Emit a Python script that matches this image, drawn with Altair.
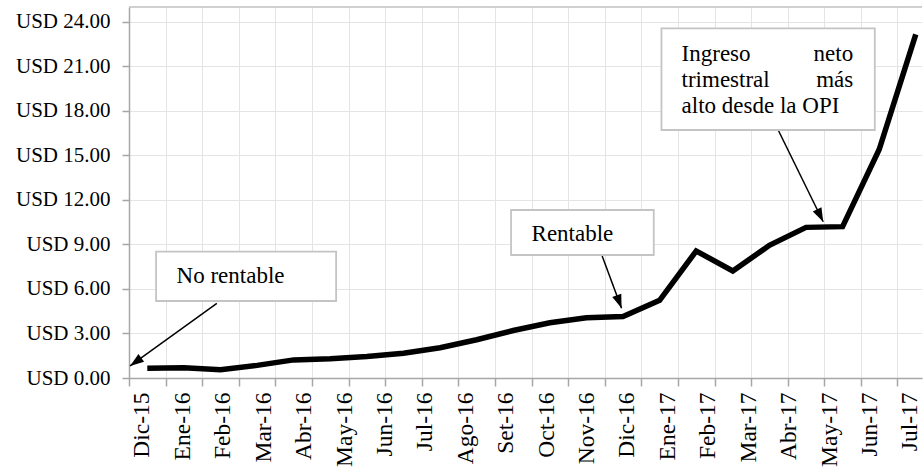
import json
import math
import altair as alt
import pandas as pd

# ---------------- data ----------------
month_labels = ["Dic-15", "Ene-16", "Feb-16", "Mar-16", "Abr-16", "May-16", "Jun-16",
                "Jul-16", "Ago-16", "Set-16", "Oct-16", "Nov-16", "Dic-16", "Ene-17",
                "Feb-17", "Mar-17", "Abr-17", "May-17", "Jun-17", "Jul-17"]
price = [0.66, 0.69, 0.55, 0.85, 1.22, 1.30, 1.45, 1.67, 2.04, 2.58, 3.20,
         3.72, 4.06, 4.15, 5.23, 8.56, 7.21, 8.94, 10.15, 10.20, 15.40, 23.15]
y_ticks = [0, 3, 6, 9, 12, 15, 18, 21, 24]

# ---------------- layout ----------------
W, H = 793, 371
X_MAX, Y_MAX = 21.67, 25
LBL_MIN, LBL_MAX = -0.32, 19.30
FONT = "Liberation Serif"
GRAY = "#a6a6a6"

x_scale = alt.Scale(domain=[0, X_MAX], nice=False, zero=False)
y_scale = alt.Scale(domain=[0, Y_MAX], nice=False)
x_axis = alt.Axis(values=list(range(22)), labels=False, title=None,
                  tickSize=8, tickColor=GRAY, tickWidth=1.5,
                  domainColor=GRAY, domainWidth=1.5,
                  grid=True, gridColor="#e4e4e4", gridWidth=1)
y_axis = alt.Axis(values=y_ticks, title=None,
                  labelExpr="'USD ' + format(datum.value, '.2f')",
                  labelFont=FONT, labelFontSize=21, labelColor="black",
                  labelPadding=12, tickSize=7, tickColor=GRAY, tickWidth=1.5,
                  domainColor=GRAY, domainWidth=1.5,
                  grid=True, gridColor="#e4e4e4", gridWidth=1)

line_df = pd.DataFrame({"pos": [i + 0.5 for i in range(len(price))], "v": price})

# annotations (in data coordinates)
boxes = pd.DataFrame({
    "x": [0.74, 10.44, 14.55], "x2": [5.66, 14.34, 20.38],
    "y": [8.51, 11.32, 23.56], "y2": [5.19, 8.29, 16.71],
})
texts = pd.DataFrame({
    "t": ["No rentable", "Rentable", "Ingreso", "neto", "trimestral", "más", "alto desde la OPI"],
    "x": [1.30, 11.00, 15.10, 19.79, 15.10, 19.79, 15.10],
    "y": [6.38, 9.25, 21.38, 21.38, 19.63, 19.63, 17.88],
    "align": ["left", "left", "left", "right", "left", "right", "left"],
})
arrows = pd.DataFrame({
    "x": [2.40, 12.93, 17.74], "y": [5.03, 8.22, 16.71],
    "x2": [0.03, 13.46, 18.97], "y2": [0.81, 4.70, 10.53],
})
sx, sy = W / X_MAX, H / Y_MAX
arrows["angle"] = [
    math.degrees(math.atan2((r.x2 - r.x) * sx, (r.y2 - r.y) * sy)) % 360
    for r in arrows.itertuples()
]


def X(field, **kw):
    return alt.X(field, scale=x_scale, axis=x_axis, **kw)


def Y(field, **kw):
    return alt.Y(field, scale=y_scale, axis=y_axis, **kw)


# ---------------- chart ----------------
base_line = alt.Chart(line_df).mark_line(color="black", strokeWidth=5.5).encode(
    x=X("pos:Q"), y=Y("v:Q"),
)

top_border = alt.Chart(pd.DataFrame({"a": [0]})).mark_rule(color="#c0c0c0", strokeWidth=1.5).encode(
    x=alt.X(datum=0, scale=x_scale, axis=x_axis),
    x2=alt.X2(datum=X_MAX),
    y=alt.Y(datum=Y_MAX, scale=y_scale, axis=y_axis),
)

arrow_lines = alt.Chart(arrows).mark_rule(color="black", strokeWidth=1.5).encode(
    x=X("x:Q"), x2="x2:Q", y=Y("y:Q"), y2="y2:Q",
)
arrow_heads = alt.Chart(arrows).mark_point(
    shape="M0,0L-0.7,2L0.7,2Z", filled=True, color="black", opacity=1, size=190
).encode(
    x=X("x2:Q"), y=Y("y2:Q"),
    angle=alt.Angle("angle:Q", scale=None),
)

box_marks = alt.Chart(boxes).mark_rect(fill="white", stroke="#c4c4c4", strokeWidth=1.8).encode(
    x=X("x:Q"), x2="x2:Q", y=Y("y:Q"), y2="y2:Q",
)

text_left = alt.Chart(texts).transform_filter("datum.align == 'left'").mark_text(
    font=FONT, fontSize=23, color="black", align="left", baseline="alphabetic"
).encode(x=X("x:Q"), y=Y("y:Q"), text="t:N")
text_right = alt.Chart(texts).transform_filter("datum.align == 'right'").mark_text(
    font=FONT, fontSize=23, color="black", align="right", baseline="alphabetic"
).encode(x=X("x:Q"), y=Y("y:Q"), text="t:N")

main = alt.layer(base_line, top_border, arrow_lines, arrow_heads, box_marks, text_left, text_right)

label_expr = json.dumps(month_labels) + "[datum.value]"
label_layer = alt.Chart(pd.DataFrame({"j": list(range(len(month_labels)))})).mark_point(opacity=0).encode(
    x=alt.X("j:Q", scale=alt.Scale(domain=[LBL_MIN, LBL_MAX], nice=False, zero=False),
            axis=alt.Axis(orient="bottom", values=list(range(len(month_labels))),
                          labelExpr=label_expr, labelAngle=-90, labelOverlap=False,
                          labelFlush=False, labelBound=False,
                          ticks=False, tickSize=0, domain=False, grid=False, title=None,
                          labelPadding=14, labelFont=FONT, labelFontSize=23.5,
                          labelColor="black")),
)

chart = alt.layer(main, label_layer).resolve_scale(x="independent").properties(
    width=W, height=H,
    autosize=alt.AutoSizeParams(type="none"),
    padding={"left": 129, "top": 7, "right": 2, "bottom": 94},
    background="white",
).configure_view(stroke=None)

chart.save("out.html", embed_options={"renderer": "svg", "actions": False})
